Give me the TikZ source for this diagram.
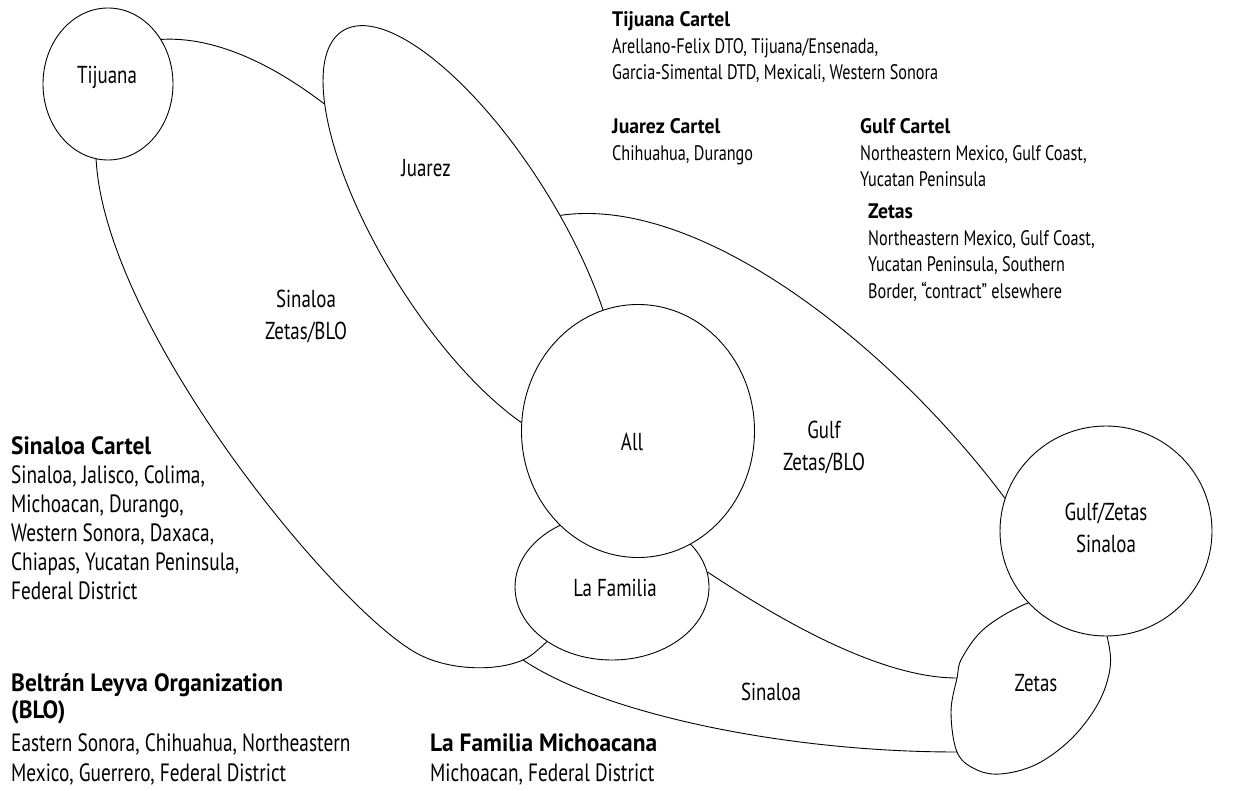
\documentclass[tikz,border=0pt]{standalone}
\usepackage{fontspec}
\usepackage{tikz}
\usetikzlibrary{shapes.geometric}
\newfontfamily\measurefont{PT Sans}
\newlength\reflen
\settowidth\reflen{\fontsize{21pt}{24pt}\measurefont Garcia-Simental DTD, Mexicali, Western Sonora}
\pgfmathsetmacro\strratio{326/\reflen}
\settowidth\reflen{\fontsize{21pt}{24pt}\measurefont\bfseries Tijuana Cartel}
\pgfmathsetmacro\boldratio{118/\reflen}
\edef\dosetfont{\noexpand\setmainfont{PT Sans}[FakeStretch=\strratio, BoldFeatures={FakeStretch=\boldratio}]}
\dosetfont
\newcommand\cbody{\fontsize{21pt}{26.5pt}\selectfont}
\newcommand\cbig{\fontsize{25pt}{29pt}\selectfont}
\newcommand\clbl{\fontsize{24.5pt}{32pt}\selectfont}
\begin{document}
\begin{tikzpicture}[x=1pt,y=-1pt,
  shp/.style={draw, ellipse, inner sep=0pt, line width=0.9pt},
  ln/.style={draw, line width=0.9pt},
  txt/.style={anchor=base west, inner sep=0pt, font=\cbody},
  hd/.style={txt, font=\cbody\bfseries},
  btxt/.style={anchor=base west, inner sep=0pt, font=\cbig},
  bhd/.style={btxt, font=\cbig\bfseries},
  lbl/.style={inner sep=0pt, align=center, font=\clbl}]
\fill[white] (0,0) rectangle (1233,791);
\useasboundingbox (0,0) rectangle (1233,791);
% shapes
\node[shp, minimum width=130pt, minimum height=152pt] (tij) at (108,84) {};
\node[shp, minimum width=484pt, minimum height=174pt, rotate=-58] (jua) at (471,236) {};
\node[shp, minimum width=194pt, minimum height=146pt] (lf) at (612,587) {};
\coordinate (zA) at (957,678);
\coordinate (zB) at (957,752);
\draw[line width=0.9pt] plot[smooth cycle, tension=0.6] coordinates {(1028,603) (985,628) (962,658) (957,678) (951,712) (957,752) (975,769) (1000,774) (1035,765) (1068,742) (1093,712) (1107,682) (1110,652) (1098,615) (1068,596)};
\node[shp, fill=white, minimum width=212pt, minimum height=210pt] (gz) at (1106,531) {};
\node[shp, fill=white, minimum width=233pt, minimum height=253pt] (all) at (638,431) {};
% connectors
\coordinate (j1) at (523,660);
\draw[ln] (tij.40) .. controls (220,36) and (280,70) .. (jua.196);
\draw[ln] (jua.71) .. controls (700,195) and (890,345) .. (gz.162);
\draw[ln] (tij.261) .. controls (105,330) and (340,615) .. (420,655) .. controls (450,670) and (495,672) .. (j1) .. controls (532,656) and (540,648) .. (lf.220);
\draw[ln] (j1) .. controls (600,712) and (780,752) .. (zB);
\draw[ln] (lf.9) .. controls (780,620) and (880,678) .. (zA);
% labels
\node[lbl] (tijl) at (107,77) {Tijuana};
\node[lbl] (jual) at (426,168) {Juarez};
\node[lbl] (sinl) at (306,316) {Sinaloa\\Zetas/BLO};
\node[lbl] (alll) at (632,442) {All};
\node[lbl] (gulfl) at (824,447) {Gulf\\Zetas/BLO};
\node[lbl] (lfl) at (615,588) {La Familia};
\node[lbl] (sinbl) at (771,692) {Sinaloa};
\node[lbl] (gzl) at (1106,528) {Gulf/Zetas\\Sinaloa};
\node[lbl] (zetl) at (1036,683) {Zetas};
% text blocks (upper right)
\node[hd] (t1) at (612,27) {Tijuana Cartel};
\node[txt] (t2) at (612,53.5) {Arellano-Felix DTO, Tijuana/Ensenada,};
\node[txt] (t3) at (612,80) {Garcia-Simental DTD, Mexicali, Western Sonora};
\node[hd] (j1t) at (612,134) {Juarez Cartel};
\node[txt] (j2t) at (612,160.5) {Chihuahua, Durango};
\node[hd] (g1) at (860,134) {Gulf Cartel};
\node[txt] (g2) at (860,160.5) {Northeastern Mexico, Gulf Coast,};
\node[txt] (g3) at (860,187) {Yucatan Peninsula};
\node[hd] (z1) at (868,219) {Zetas};
\node[txt] (z2) at (868,245.5) {Northeastern Mexico, Gulf Coast,};
\node[txt] (z3) at (868,272) {Yucatan Peninsula, Southern};
\node[txt] (z4) at (868,298.5) {Border, “contract” elsewhere};
% text blocks (left and bottom)
\node[bhd] (s1) at (11,454) {Sinaloa Cartel};
\node[btxt] (s2) at (11,483) {Sinaloa, Jalisco, Colima,};
\node[btxt] (s3) at (11,512) {Michoacan, Durango,};
\node[btxt] (s4) at (11,541) {Western Sonora, Daxaca,};
\node[btxt] (s5) at (11,570) {Chiapas, Yucatan Peninsula,};
\node[btxt] (s6) at (11,599) {Federal District};
\node[bhd] (b1) at (11,691) {Beltrán Leyva Organization};
\node[bhd] (b2) at (11,718) {(BLO)};
\node[btxt] (b3) at (11,751) {Eastern Sonora, Chihuahua, Northeastern};
\node[btxt] (b4) at (11,781) {Mexico, Guerrero, Federal District};
\node[bhd] (f1) at (430,751) {La Familia Michoacana};
\node[btxt] (f2) at (430,781) {Michoacan, Federal District};
\end{tikzpicture}
\end{document}
